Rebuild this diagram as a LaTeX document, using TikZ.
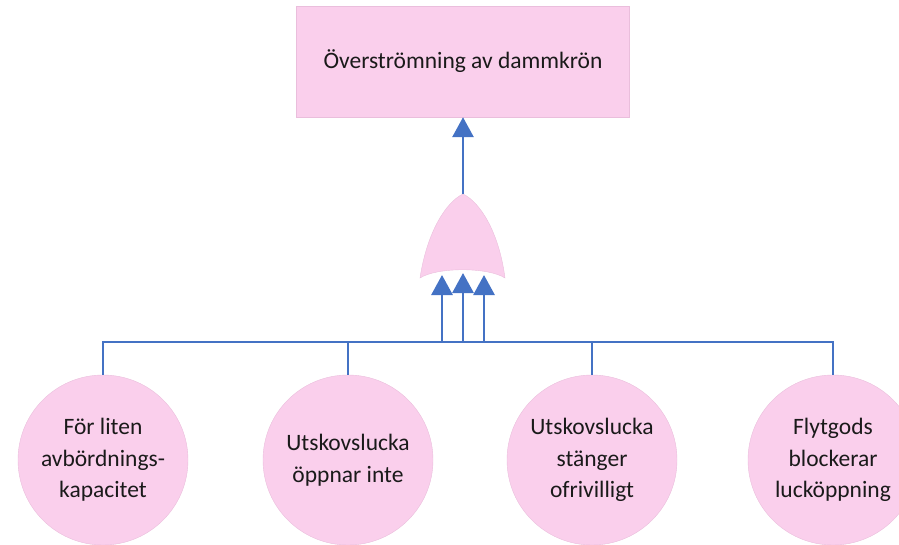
\documentclass[tikz,border=0pt]{standalone}
\usepackage{fontspec}
\setmainfont{Carlito}
\usetikzlibrary{arrows.meta}
\definecolor{gatepink}{RGB}{250,207,236}
\definecolor{pinkline}{RGB}{234,190,220}
\definecolor{linkblue}{RGB}{68,114,196}
\definecolor{inktext}{RGB}{26,26,26}

\begin{document}
\begin{tikzpicture}[x=1pt,y=-1pt,
  event/.style={draw=pinkline,thin,fill=gatepink,text=inktext,font=\fontsize{23.5}{31.5}\selectfont,align=center},
  cause/.style={event,circle,minimum size=170pt,inner sep=0pt},
  link/.style={linkblue,line width=2.9pt},
  up/.style={link,-{Triangle[width=21pt,length=20pt]}}]
   \clip (0,0) rectangle (899,545);
   \node[event,minimum width=333pt,minimum height=111pt] (top) at (463,61.5) {Överströmning av dammkrön};
   \draw[fill=gatepink,draw=pinkline,thin] (420,278) .. controls (427,232) and (446,202) .. (463,194)
      .. controls (480,202) and (499,232) .. (505,278) .. controls (488,267) and (437,267) .. cycle;
   \coordinate (apex) at (463,194);
   \coordinate (bus) at (463,342);
   \coordinate (in1) at (442,275);
   \coordinate (in2) at (463,273);
   \coordinate (in3) at (484,275);
   \node[cause] (c1) at (103,460) {För liten\\avbördnings-\\kapacitet};
   \node[cause] (c2) at (348,460) {Utskovslucka\\öppnar inte};
   \node[cause] (c3) at (592,460) {Utskovslucka\\stänger\\ofrivilligt};
   \node[cause] (c4) at (833,460) {Flytgods\\blockerar\\lucköppning};
   \draw[up] (apex) -- (top.south);
   \draw[link] (c1.north) |- (bus) -| (c4.north);
   \draw[link] (c2.north) -- (c2.north |- bus);
   \draw[link] (c3.north) -- (c3.north |- bus);
   \draw[up] (bus -| in1) -- (in1);
   \draw[up] (bus) -- (in2);
   \draw[up] (bus -| in3) -- (in3);
\end{tikzpicture}
\end{document}
